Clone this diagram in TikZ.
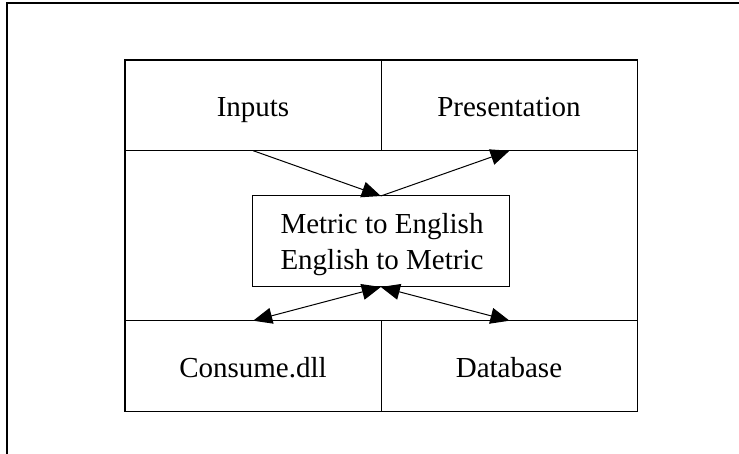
\documentclass[tikz,border=0pt]{standalone}
\usepackage{fontspec}
\setmainfont{Liberation Serif}
\usetikzlibrary{arrows.meta}
\begin{document}
\begin{tikzpicture}[x=1pt,y=-1pt,
  cell/.style={draw, line width=1.5pt, minimum width=256.35pt, minimum height=90.7pt,
               inner sep=0pt, outer sep=0pt, anchor=north west},
  lbl/.style={font=\fontsize{29}{36}\selectfont, anchor=base, inner sep=0pt},
  conn/.style={line width=1pt},
  head/.tip={Triangle[length=19pt,width=16pt]}]
  \useasboundingbox (0,0) rectangle (739,454);

  % page frame (top and left edges)
  \coordinate (fa) at (739,3);
  \coordinate (fb) at (7,3);
  \coordinate (fc) at (7,454);
  \draw[line width=2pt] (fa) -- (fb) -- (fc);

  % outer component box
  \node[cell, minimum width=512.7pt, minimum height=351.7pt] (frame) at (125,60) {};

  % four corner modules
  \node[cell] (inputs) at (125,60) {};
  \node[cell] (pres)   at (381.35,60) {};
  \node[cell] (cons)   at (125,320.7) {};
  \node[cell] (db)     at (381.35,320.7) {};

  % converter in the middle
  \node[draw, line width=1pt, minimum width=256.3pt, minimum height=91pt,
        inner sep=0pt, outer sep=0pt, anchor=north west] (conv) at (252.7,196) {};

  % labels
  \node[lbl] (tIn) at (253,117)   {Inputs};
  \node[lbl] (tPr) at (509,117)   {Presentation};
  \node[lbl] (tCo) at (253,377.3) {Consume.dll};
  \node[lbl] (tDb) at (509,377.3) {Database};
  \node[lbl] (tM1) at (382,233.3) {Metric to English};
  \node[lbl] (tM2) at (382,269.3) {English to Metric};

  % data flow
  \draw[conn, -head] (inputs.south) -- (conv.north);
  \draw[conn, -head] (conv.north) -- (pres.south);
  \draw[conn, head-head] (conv.south) -- (cons.north);
  \draw[conn, head-head] (conv.south) -- (db.north);
\end{tikzpicture}
\end{document}
